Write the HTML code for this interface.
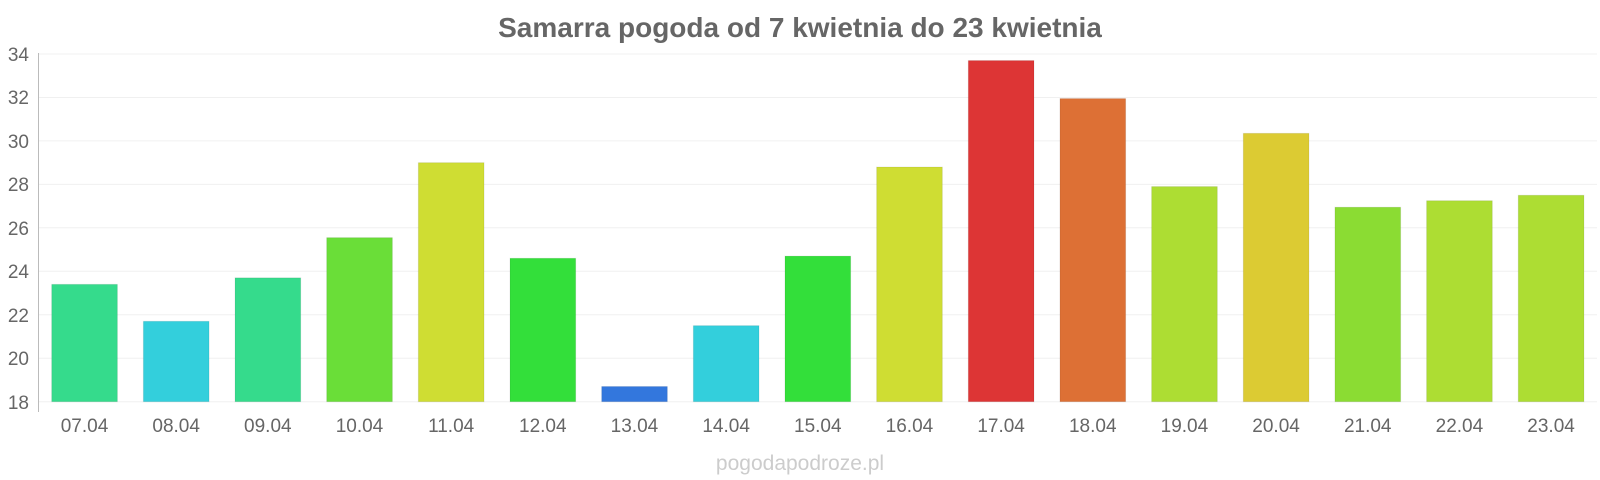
<!DOCTYPE html>
<html><head><meta charset="utf-8"><style>body{margin:0;background:#fff}svg{display:block}</style></head>
<body>
<svg width="1600" height="480" xmlns="http://www.w3.org/2000/svg" font-family="Liberation Sans, sans-serif">
<text x="800" y="37" text-anchor="middle" font-size="28" font-weight="bold" fill="#666">Samarra pogoda od 7 kwietnia do 23 kwietnia</text>
<g stroke="#f0f0f0" stroke-width="1">
<line x1="38" x2="1597" y1="54" y2="54"/><line x1="38" x2="1597" y1="97.5" y2="97.5"/><line x1="38" x2="1597" y1="140.9" y2="140.9"/><line x1="38" x2="1597" y1="184.4" y2="184.4"/><line x1="38" x2="1597" y1="227.8" y2="227.8"/><line x1="38" x2="1597" y1="271.3" y2="271.3"/><line x1="38" x2="1597" y1="314.8" y2="314.8"/><line x1="38" x2="1597" y1="358.2" y2="358.2"/><line x1="38" x2="1597" y1="401.7" y2="401.7"/>
</g>
<line x1="38.5" x2="38.5" y1="53" y2="412" stroke="#bbb"/>
<g font-size="19" fill="#666" text-anchor="end">
<text x="29" y="61">34</text><text x="29" y="104">32</text><text x="29" y="148">30</text><text x="29" y="191">28</text><text x="29" y="235">26</text><text x="29" y="278">24</text><text x="29" y="322">22</text><text x="29" y="365">20</text><text x="29" y="409">18</text>
</g>
<g id="bars"></g>
<g id="labels" font-size="19" fill="#666" text-anchor="middle"></g>
<text x="800" y="470" text-anchor="middle" font-size="21" fill="#ccc">pogodapodroze.pl</text>
<script>
var v=[23.4,21.7,23.7,25.55,29,24.6,18.7,21.5,24.7,28.8,33.7,31.95,27.9,30.35,26.95,27.25,27.5];
var c=["#35db8c","#33cfdc","#35db8c","#6ade38","#cfdd33","#33df3a","#3377dd","#33cfdc","#33df3a","#cfdd33","#dd3535","#dd7035","#addd33","#dccb33","#8bdc33","#addd33","#addd33"];
var b=document.getElementById("bars"),l=document.getElementById("labels"),ns="http://www.w3.org/2000/svg";
for(var i=0;i<17;i++){var x=51.7+i*91.66,y=401.7-(v[i]-18)*21.73;
var r=document.createElementNS(ns,"rect");r.setAttribute("x",x);r.setAttribute("y",y);r.setAttribute("width",65.7);r.setAttribute("height",401.7-y);r.setAttribute("fill",c[i]);r.setAttribute("stroke","rgba(0,0,0,0.08)");b.appendChild(r);
var t=document.createElementNS(ns,"text");t.setAttribute("x",x+32.8);t.setAttribute("y",432);var d=7+i;t.textContent=(d<10?"0"+d:d)+".04";l.appendChild(t);}
</script>
</svg>
</body></html>
